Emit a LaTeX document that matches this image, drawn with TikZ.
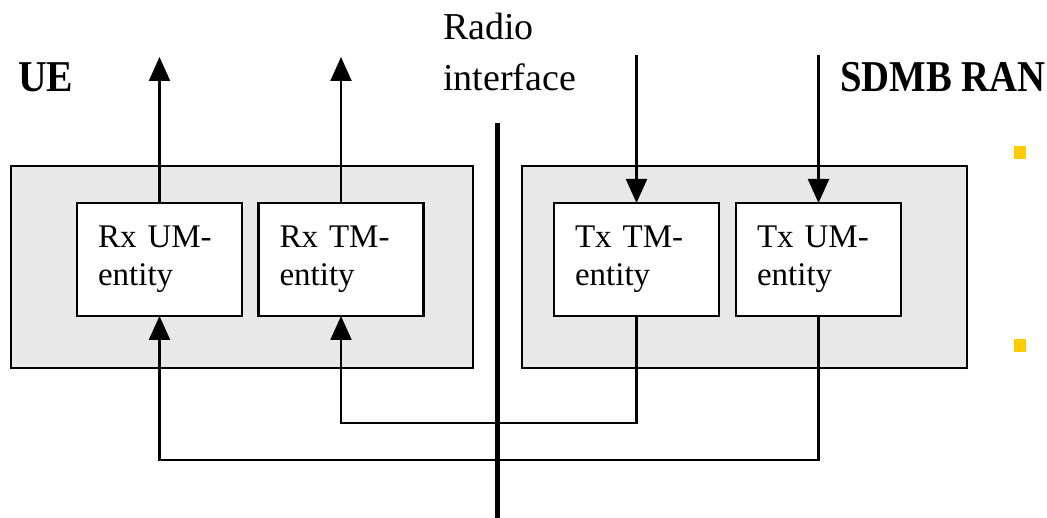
\documentclass[tikz,border=0pt]{standalone}
\usepackage{fontspec}
\setmainfont{Liberation Serif}
\usetikzlibrary{arrows.meta}
\definecolor{boxgray}{HTML}{E8E8E8}
\definecolor{bullet}{HTML}{FFCC00}
\tikzset{
  outerbox/.style={draw=black, line width=2.2pt, fill=boxgray, inner sep=0pt, outer sep=0pt},
  entitybox/.style={draw=black, line width=2.2pt, fill=white, minimum width=165pt, minimum height=113pt,
    text width=123pt, inner xsep=21pt, inner ysep=0pt, outer sep=0pt, align=left,
    font=\fontsize{33}{38}\selectfont},
  arr/.style={line width=2.2pt, -{Triangle[length=24pt,width=21pt]}},
  bar/.style={line width=5pt},
  boldlabel/.style={anchor=base west, inner sep=0pt},
}
\begin{document}
\begin{tikzpicture}[x=1pt,y=-1pt]
\useasboundingbox (0,0) rectangle (1047,518);
% outer boxes
\node[outerbox, minimum width=462pt, minimum height=202pt] (ue) at (242,267) {};
\node[outerbox, minimum width=445pt, minimum height=202pt] (ran) at (744.5,267) {};
% entities
\node[entitybox] (rxum) at (159.5,259.5) {Rx UM-\\entity};
\node[entitybox] (rxtm) at (341,259.5) {Rx TM-\\entity};
\node[entitybox] (txtm) at (636.5,259.5) {Tx TM-\\entity};
\node[entitybox] (txum) at (818.5,259.5) {Tx UM-\\entity};
% radio interface bar
\coordinate (bartop) at (497,123);
\coordinate (barbot) at (497,518);
\draw[bar] (bartop) -- (barbot);
% labels
\node[boldlabel] (uelabel) at (18,92) {\scalebox{0.9}[1]{\fontsize{44}{50}\selectfont\bfseries UE}};
\node[boldlabel] (ranlabel) at (840,92) {\scalebox{0.88}[1]{\fontsize{44}{50}\selectfont\bfseries SDMB RAN}};
\node[anchor=base west, inner sep=0pt, align=left, font=\fontsize{38}{51}\selectfont] (radio) at (443,91) {Radio\\interface};
% top arrows
\coordinate (out1) at (159.5,57);
\coordinate (out2) at (341,57);
\coordinate (in1) at (636.5,55);
\coordinate (in2) at (818.5,55);
\draw[arr] (rxum.north) -- (out1);
\draw[arr] (rxtm.north) -- (out2);
\draw[arr] (in1) -- (txtm.north);
\draw[arr] (in2) -- (txum.north);
% bottom loops
\coordinate (lvl1) at (0,423);
\coordinate (lvl2) at (0,460);
\draw[arr] (txtm.south) -- (txtm.south |- lvl1) -| (rxtm.south);
\draw[arr] (txum.south) -- (txum.south |- lvl2) -| (rxum.south);
% bullets
\fill[bullet] (1014,146) rectangle (1026,159);
\fill[bullet] (1014,339) rectangle (1026,352);
\end{tikzpicture}
\end{document}
